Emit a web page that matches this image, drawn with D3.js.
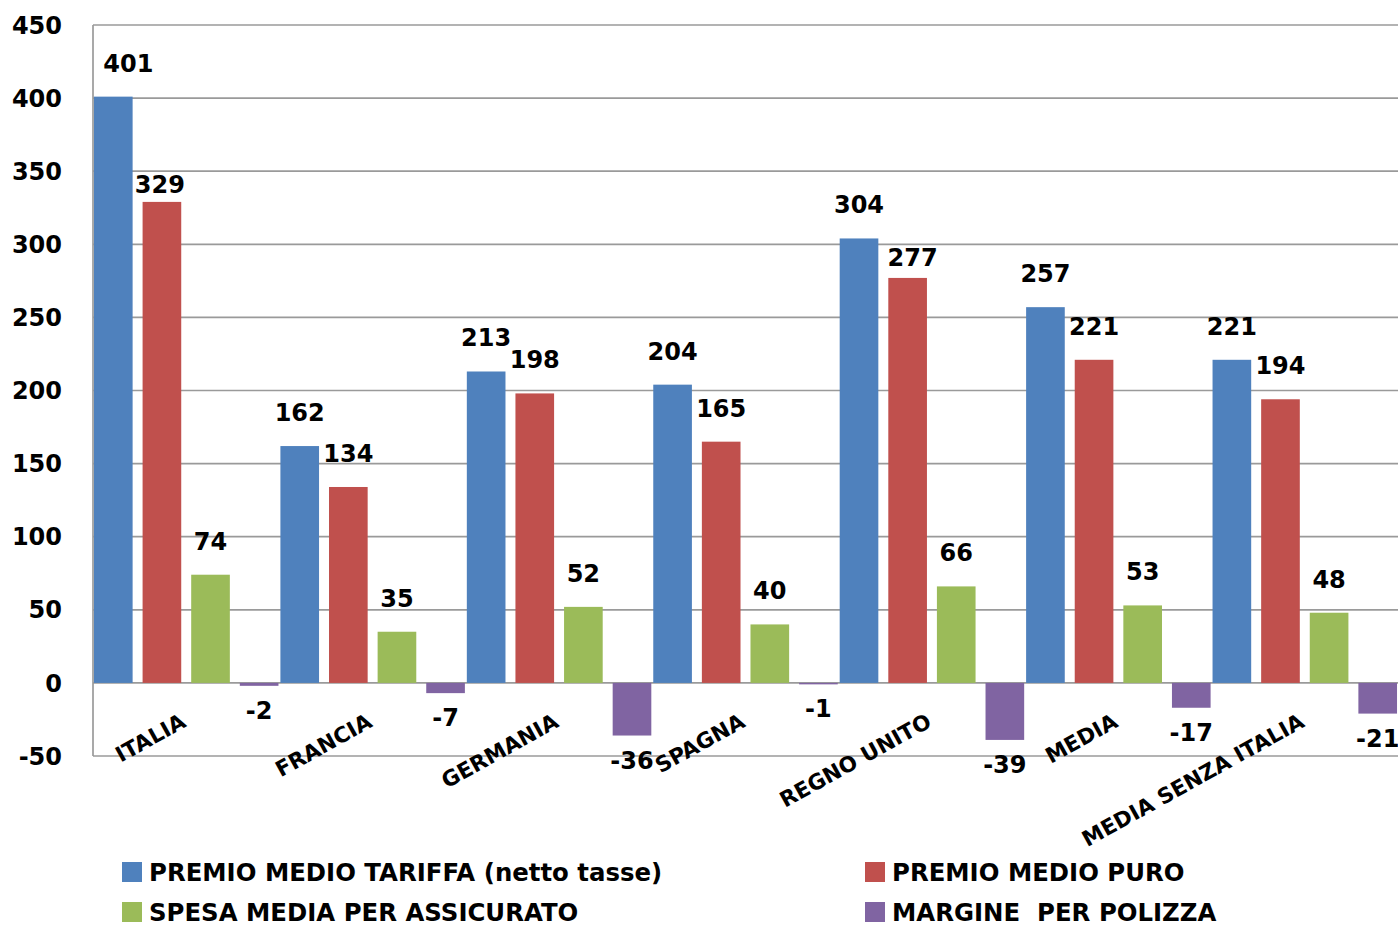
<!DOCTYPE html>
<html>
<head>
<meta charset="utf-8">
<script src="https://cdn.jsdelivr.net/npm/d3@7"></script>
<style>
  body { margin: 0; background: #fff; }
  svg text { font-family: "DejaVu Sans", Verdana, sans-serif; font-weight: bold; fill: #000; }
</style>
</head>
<body>
<svg id="chart" width="1398" height="927"></svg>
<script>
const categories = ["ITALIA", "FRANCIA", "GERMANIA", "SPAGNA", "REGNO UNITO", "MEDIA", "MEDIA SENZA ITALIA"];
const seriesNames = ["PREMIO MEDIO TARIFFA (netto tasse)", "PREMIO MEDIO PURO", "SPESA MEDIA PER ASSICURATO", "MARGINE  PER POLIZZA"];
const premioTariffa = [401, 162, 213, 204, 304, 257, 221];
const premioPuro = [329, 134, 198, 165, 277, 221, 194];
const spesaMedia = [74, 35, 52, 40, 66, 53, 48];
const margine = [-2, -7, -36, -1, -39, -17, -21];
const yTicks = [-50, 0, 50, 100, 150, 200, 250, 300, 350, 400, 450];

const seriesValues = [premioTariffa, premioPuro, spesaMedia, margine];
const colors = ["#4F81BD", "#C0504D", "#9BBB59", "#8064A2"];

// a few labels were moved by hand in the original
const nudge = {
    "0|ITALIA": [15, 0],
    "1|ITALIA": [-2, 16],
    "1|REGNO UNITO": [5, 13]
};

const svg = d3.select("#chart");
const plotLeft = 93, plotRight = 1398, plotTop = 25, plotBottom = 756;

const y = d3.scaleLinear().domain([-50, 450]).range([plotBottom, plotTop]);
const x0 = d3.scaleBand().domain(categories).range([plotLeft, plotRight]).padding(0);
const x1 = d3.scaleBand().domain(d3.range(seriesNames.length))
    .range([0, x0.bandwidth()]).paddingInner(0.205).paddingOuter(0.02);

// gridlines
svg.append("g")
    .selectAll("line")
    .data(yTicks)
    .enter()
    .append("line")
    .attr("x1", plotLeft).attr("x2", plotRight)
    .attr("y1", d => y(d)).attr("y2", d => y(d))
    .attr("stroke", "#9a9a9a").attr("stroke-width", 1.7);

svg.append("line")
    .attr("x1", plotLeft).attr("x2", plotLeft)
    .attr("y1", y(450)).attr("y2", y(-50))
    .attr("stroke", "#9a9a9a").attr("stroke-width", 1.7);

// y tick labels
svg.append("g")
    .selectAll("text")
    .data(yTicks)
    .enter()
    .append("text")
    .attr("x", 62)
    .attr("y", d => y(d))
    .attr("dy", "0.36em")
    .attr("text-anchor", "end")
    .style("font-size", "24px")
    .text(d => d);

const rows = [];
categories.forEach((c, ci) => {
    seriesValues.forEach((vals, si) => rows.push({cat: c, s: si, v: vals[ci]}));
});

// bars
svg.append("g")
    .selectAll("rect")
    .data(rows)
    .enter()
    .append("rect")
    .attr("x", d => x0(d.cat) + x1(d.s))
    .attr("width", x1.bandwidth())
    .attr("y", d => y(Math.max(0, d.v)))
    .attr("height", d => Math.abs(y(d.v) - y(0)))
    .attr("fill", d => colors[d.s]);

// value labels
svg.append("g")
    .selectAll("text")
    .data(rows)
    .enter()
    .append("text")
    .attr("text-anchor", "middle")
    .style("font-size", "24px")
    .attr("x", d => x0(d.cat) + x1(d.s) + x1.bandwidth() / 2 + (nudge[d.s + "|" + d.cat] || [0, 0])[0])
    .attr("y", d => (d.v >= 0 ? y(d.v) - 25 : y(d.v) + 33) + (nudge[d.s + "|" + d.cat] || [0, 0])[1])
    .text(d => d.v);

// category labels
svg.append("g")
    .selectAll("text")
    .data(categories)
    .enter()
    .append("text")
    .attr("text-anchor", "end")
    .style("font-size", "21.5px")
    .attr("transform", d => `translate(${x0(d) + x0.bandwidth() / 2 + 1},726) rotate(-29)`)
    .text(d => d);

// legend
const legendPos = [[122, 862], [865, 862], [122, 902], [865, 902]];
const legend = svg.append("g")
    .selectAll("g")
    .data(seriesNames)
    .enter()
    .append("g")
    .attr("transform", (d, i) => `translate(${legendPos[i][0]},${legendPos[i][1]})`);
legend.append("rect").attr("width", 20).attr("height", 20).attr("fill", (d, i) => colors[i]);
legend.append("text").attr("x", 27).attr("y", 19).style("font-size", "24.4px")
    .attr("xml:space", "preserve").style("white-space", "pre")
    .text(d => d);
</script>
</body>
</html>
